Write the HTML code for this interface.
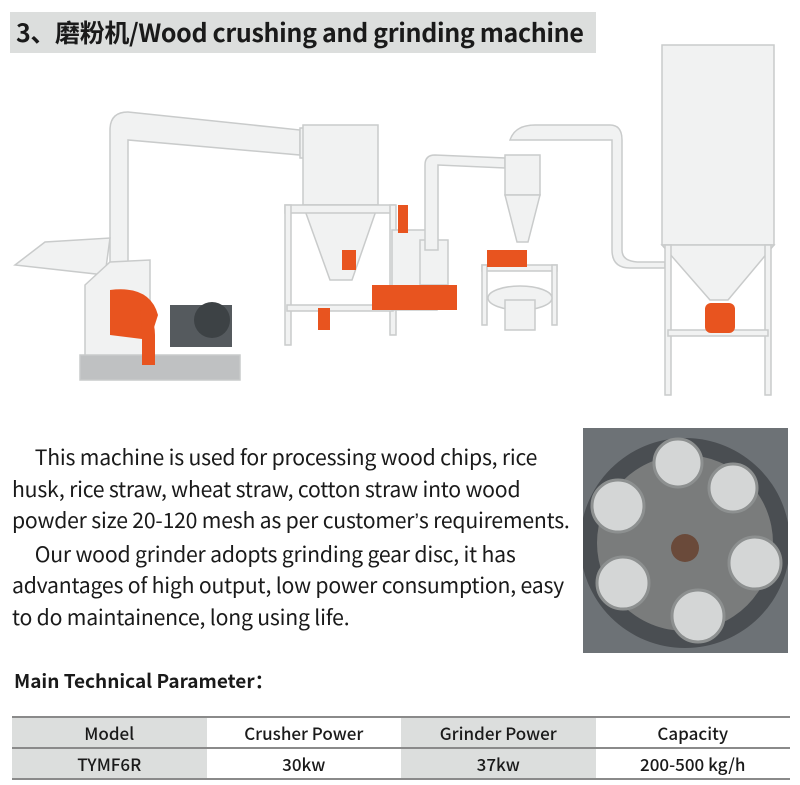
<!DOCTYPE html>
<html><head><meta charset="utf-8"><style>
body{margin:0;width:800px;height:785px;background:#fff;position:relative;overflow:hidden;font-family:"Noto Sans CJK SC","Liberation Sans",sans-serif;color:#1a1a1a}
.hdr{position:absolute;left:10px;top:12px;width:586px;height:41px;background:#dcdedd}
.hdr span{position:absolute;left:6px;top:2px;font-size:25px;font-weight:bold;letter-spacing:-0.35px;white-space:nowrap}
.p{position:absolute;left:12px;top:441px;width:570px;font-size:21.2px;line-height:31.5px;letter-spacing:-0.2px}
.p div{white-space:nowrap}
.ap{font-family:"Liberation Sans",sans-serif}
.mt{position:absolute;left:14px;top:667px;font-size:19px;font-weight:bold;letter-spacing:0px}
table{position:absolute;left:12px;top:716px;width:778px;border-collapse:collapse;font-size:17px}
td{height:29px;text-align:center;padding:0;border-top:2px solid #8a8a8a;border-bottom:2px solid #8a8a8a;width:25%;font-weight:500}
.g{background:#dcdedd}
</style></head><body>
<div class="hdr"><span>3、磨粉机/Wood crushing and grinding machine</span></div>
<svg style="position:absolute;left:0;top:0" width="800" height="410">
<g fill="#f1f2f2" stroke="#c9cbcb" stroke-width="1.5">
<path d="M110 290 V130 Q110 112 128 112 L300 130 V155 L128 140 V290Z"/>
<rect x="300" y="128" width="20" height="30"/>
<rect x="303" y="125" width="75" height="80"/>
<path d="M303 205 H378 L352 280 H330Z"/>
<rect x="285" y="205" width="110" height="8"/>
<rect x="285" y="205" width="6" height="140"/><rect x="390" y="205" width="6" height="130"/>
<rect x="287" y="305" width="106" height="6"/>
<path d="M15 265 L45 242 L110 238 L105 275Z"/>
<path d="M85 285 L110 262 L150 260 L150 370 L110 375 L85 360Z"/>
<rect x="80" y="355" width="160" height="25" fill="#bfc1c2"/>
<rect x="392" y="230" width="45" height="80"/>
<rect x="420" y="240" width="28" height="45"/>
<path d="M425 250 V165 Q425 155 435 155 L505 158 V168 L438 165 V250Z"/>
<path d="M510 140 Q515 125 535 125 H610 Q622 125 622 140 V250 Q622 262 640 262 H665 V268 H630 Q612 268 612 250 V140 L530 140Z"/>
<rect x="505" y="155" width="35" height="40"/>
<path d="M505 195 H540 L528 242 H517Z"/>
<rect x="482" y="265" width="75" height="6"/>
<rect x="482" y="265" width="5" height="60"/><rect x="552" y="265" width="5" height="60"/>
<ellipse cx="520" cy="298" rx="32" ry="12"/>
<rect x="505" y="300" width="30" height="30"/>
<rect x="662" y="45" width="112" height="200"/>
<path d="M662 245 H774 L728 300 H710Z"/>
<rect x="665" y="245" width="6" height="150"/><rect x="765" y="245" width="6" height="150"/>
<rect x="668" y="330" width="100" height="6"/>
</g>
<g fill="#e8541f">
<path d="M110 290 Q150 285 158 315 L150 340 L110 335Z"/>
<path d="M140 310 Q155 315 155 335 V365 H142 V330Z"/>
<rect x="342" y="250" width="14" height="20"/>
<rect x="318" y="308" width="12" height="22"/>
<rect x="372" y="285" width="85" height="25"/>
<rect x="398" y="205" width="10" height="28"/>
<rect x="487" y="250" width="40" height="17"/>
<rect x="705" y="303" width="30" height="30" rx="6"/>
</g>
<rect x="170" y="305" width="62" height="42" fill="#555a5e"/>
<circle cx="212" cy="320" r="18" fill="#3d4245"/>
</svg>
<div class="p">
<div>&nbsp;&nbsp;&nbsp;&nbsp;&nbsp;This machine is used for processing wood chips, rice</div>
<div>husk, rice straw, wheat straw, cotton straw into wood</div>
<div>powder size 20-120 mesh as per customer<span class="ap">’</span>s requirements.</div>
<div>&nbsp;&nbsp;&nbsp;&nbsp;&nbsp;Our wood grinder adopts grinding gear disc, it has</div>
<div>advantages of high output, low power consumption, easy</div>
<div>to do maintainence, long using life.</div>
</div>
<svg style="position:absolute;left:583px;top:428px" width="205" height="225">
<rect width="205" height="225" fill="#6d7276"/>
<circle cx="102" cy="115" r="105" fill="#4a4e52"/>
<circle cx="102" cy="115" r="88" fill="#7a7c7c"/>
<circle cx="102" cy="120" r="14" fill="#6a4a3a"/>
<g fill="#d4d6d6" stroke="#8d9090" stroke-width="3">
<circle cx="95" cy="35" r="24"/><circle cx="150" cy="60" r="24"/><circle cx="35" cy="78" r="26"/>
<circle cx="172" cy="135" r="26"/><circle cx="40" cy="155" r="26"/><circle cx="115" cy="188" r="26"/>
</g>
</svg>
<div class="mt">Main Technical Parameter：</div>
<table><tr><td class="g">Model</td><td>Crusher Power</td><td class="g">Grinder Power</td><td>Capacity</td></tr>
<tr><td class="g">TYMF6R</td><td>30kw</td><td class="g">37kw</td><td>200-500 kg/h</td></tr></table>
</body></html>
